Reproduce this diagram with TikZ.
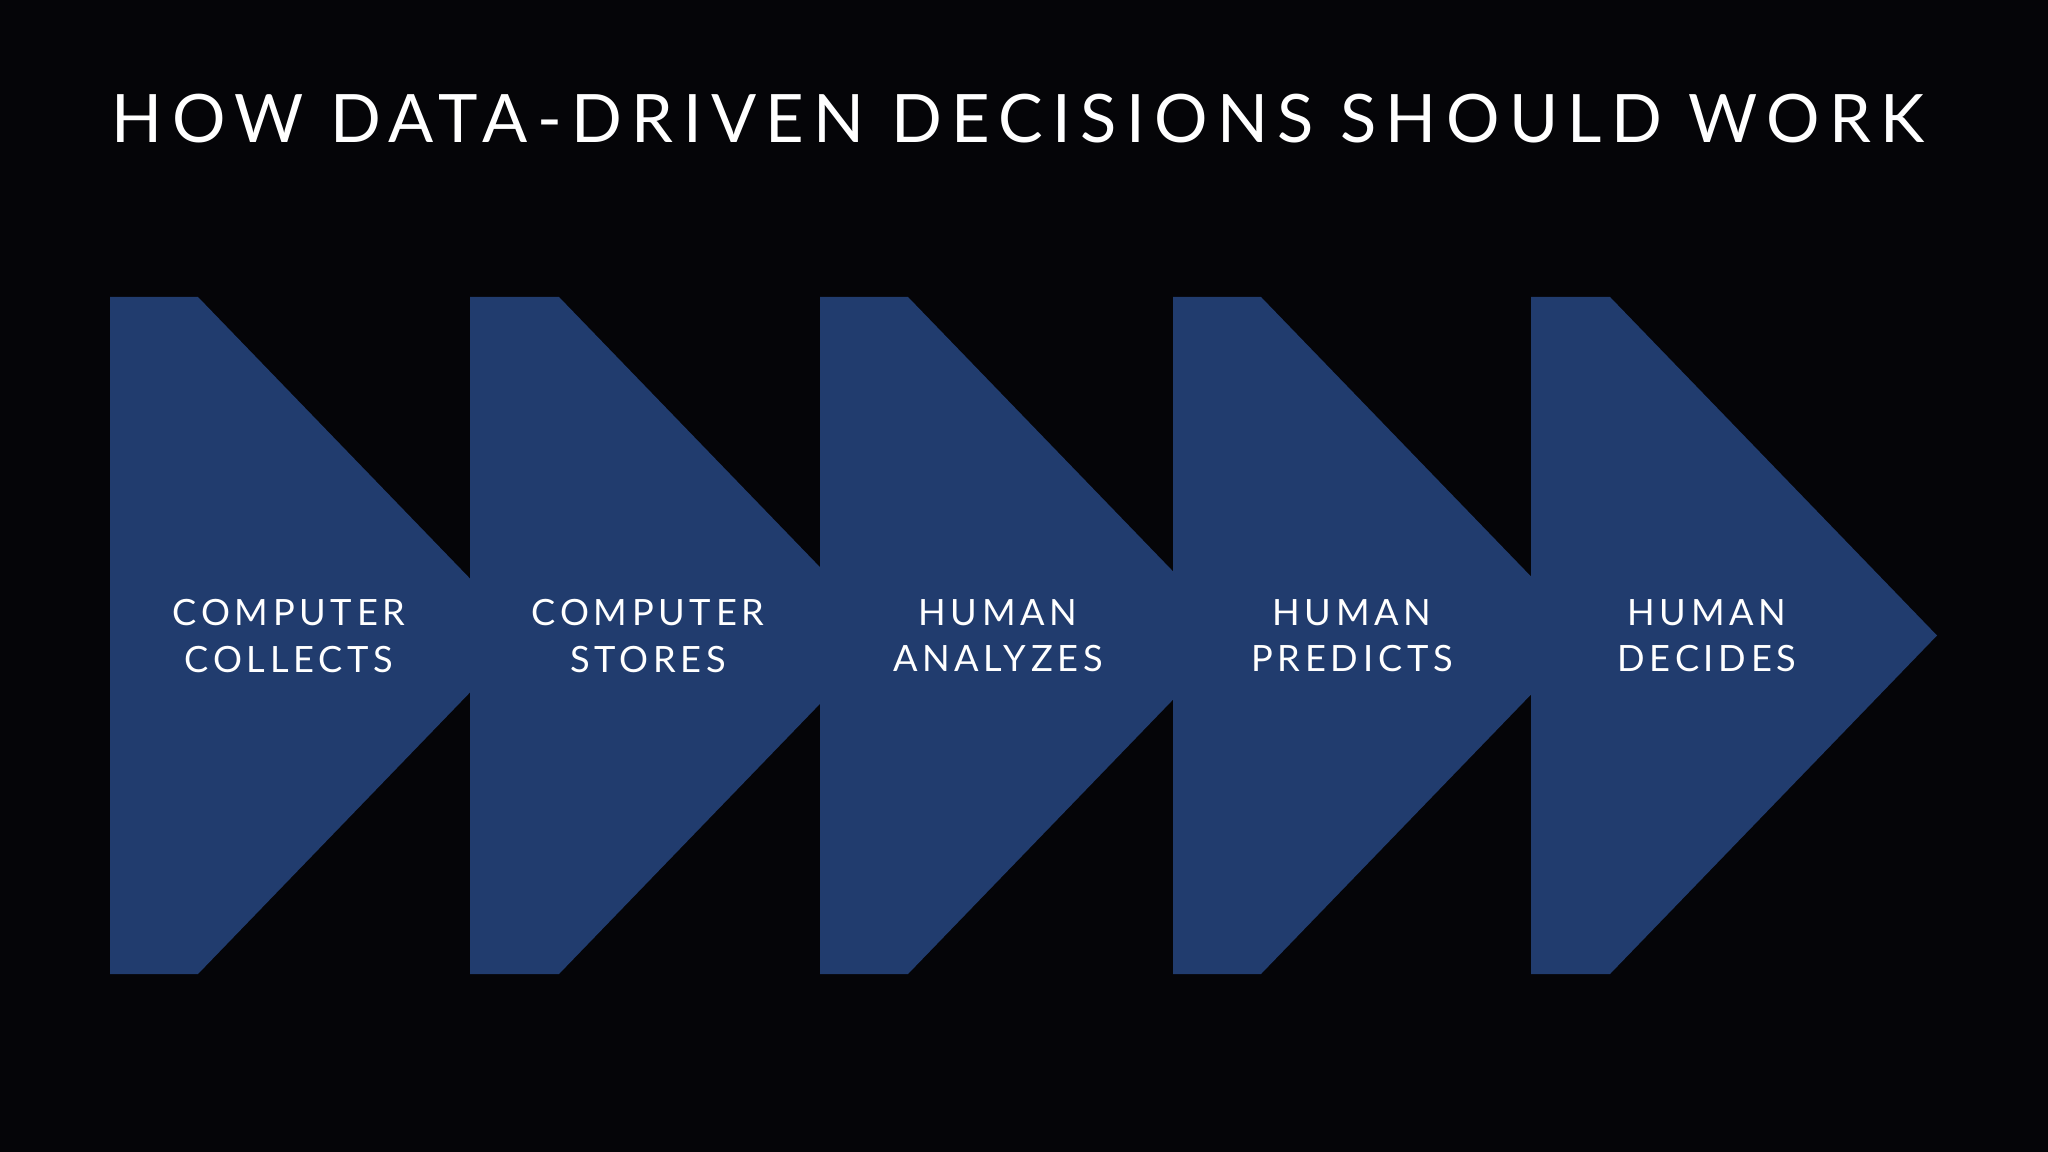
\documentclass[tikz,border=0pt]{standalone}
\usepackage{fontspec}
\setmainfont{Lato}
\newfontfamily\titlefont[LetterSpace=14]{Lato}
\newfontfamily\labelfont[LetterSpace=13]{Lato}
\definecolor{bg}{RGB}{5,5,8}
\definecolor{chevblue}{RGB}{33,60,110}
\tikzset{
  chev/.style={fill=chevblue},
  lbl/.style={text=white, align=center, inner sep=0pt,
    font=\labelfont\fontsize{10.3}{13.1}\selectfont},
  ttl/.style={text=white, inner sep=0pt,
    font=\titlefont\fontsize{19}{23}\selectfont}
}
\begin{document}
\begin{tikzpicture}[x=0.01cm,y=-0.01cm]
\fill[bg] (0,0) rectangle (2048,1152);
\useasboundingbox (0,0) rectangle (2048,1152);
\node[ttl] (title) at (1018,119) {HOW DATA-DRIVEN DECISIONS SHOULD WORK};
% chevrons: left, flat end, tip
\fill[chev] (110,297) -- (198,297) -- (525,635.5) -- (198,974) -- (110,974) -- cycle;
\fill[chev] (470,297) -- (559,297) -- (886,635.5) -- (559,974) -- (470,974) -- cycle;
\fill[chev] (820,297) -- (908,297) -- (1235,635.5) -- (908,974) -- (820,974) -- cycle;
\fill[chev] (1173,297) -- (1261,297) -- (1588,635.5) -- (1261,974) -- (1173,974) -- cycle;
\fill[chev] (1531,297) -- (1610,297) -- (1937,635.5) -- (1610,974) -- (1531,974) -- cycle;
\node[lbl] (s1) at (289,636) {COMPUTER\\COLLECTS};
\node[lbl] (s2) at (648,636) {COMPUTER\\STORES};
\node[lbl] (s3) at (998,636) {HUMAN\\ANALYZES};
\node[lbl] (s4) at (1352,636) {HUMAN\\PREDICTS};
\node[lbl] (s5) at (1707,636) {HUMAN\\DECIDES};
\end{tikzpicture}
\end{document}
